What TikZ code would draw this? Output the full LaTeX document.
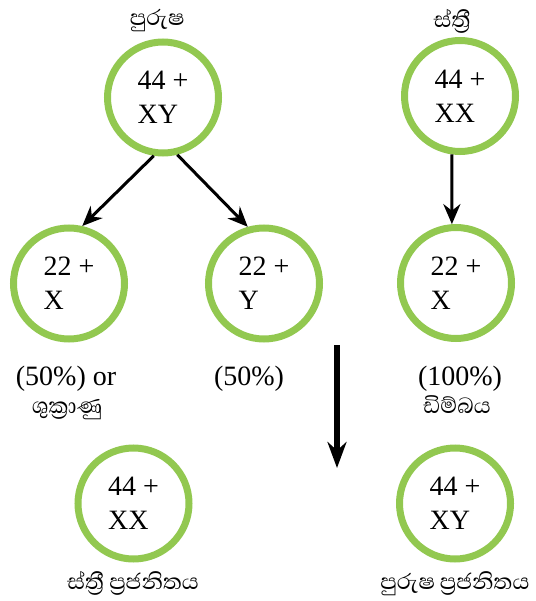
\documentclass[tikz,border=0pt]{standalone}
\usepackage{fontspec}
\setmainfont{Liberation Serif}
\newfontfamily\sinhfont[Script=Sinhala]{Abhaya Libre}
\usetikzlibrary{arrows.meta,positioning}
\definecolor{CellGreen}{RGB}{146,200,80}

\begin{document}
\begin{tikzpicture}[x=1pt,y=-1pt,
  cell/.style={circle,draw=CellGreen,line width=7pt,minimum size=111pt,inner sep=0pt,align=left,font=\fontsize{28}{34}\selectfont},
  pct/.style={font=\fontsize{28}{34}\selectfont},
  lbl/.style={font=\sinhfont\fontsize{28}{32}\selectfont},
  split/.style={line width=3pt,-{Stealth[length=20pt,width=17pt]}}
]
  \useasboundingbox (0,0) rectangle (535,601);

  % parents
  \node[cell] (male) at (163,97.5) {44 +\\XY};
  \node[cell] (female) at (460,96) {44 +\\XX};
  \node[lbl] (maleLbl) at (157,21) {පුරුෂ};
  \node[lbl] (femaleLbl) at (452,21) {ස්ත්^^^^200dරී};

  % gametes
  \node[cell] (spermX) at (69,283.5) {22 +\\X};
  \node[cell] (spermY) at (264,283.5) {22 +\\Y};
  \node[cell] (egg) at (456,283) {22 +\\X};
  \node[pct] (pctX) at (66,379) {(50\%) or};
  \node[pct] (pctY) at (249,379) {(50\%)};
  \node[pct] (pctEgg) at (460,379) {(100\%)};
  \node[lbl] (spermLbl) at (67,410) {ශුක්^^^^200dරාණු};
  \node[lbl] (eggLbl) at (457,405) {ඩිම්බය};

  % offspring
  \node[cell] (girl) at (133.5,503.5) {44 +\\XX};
  \node[cell] (boy) at (455,503.5) {44 +\\XY};
  \node[lbl] (girlLbl) at (133,583) {ස්ත්^^^^200dරී ප්^^^^200dරජනිතය};
  \node[lbl] (boyLbl) at (455,584) {පුරුෂ ප්^^^^200dරජනිතය};

  \draw[split] (male.261) -- (spermX.77);
  \draw[split] (male.284) -- (spermY.106);
  \draw[split] (female.262) -- (egg.94);

  \coordinate (fuseTop) at (337,345);
  \coordinate (fuseEnd) at (337,468);
  \draw[line width=6pt,-{Stealth[length=26pt,width=19pt]}] (fuseTop) -- (fuseEnd);
\end{tikzpicture}
\end{document}
